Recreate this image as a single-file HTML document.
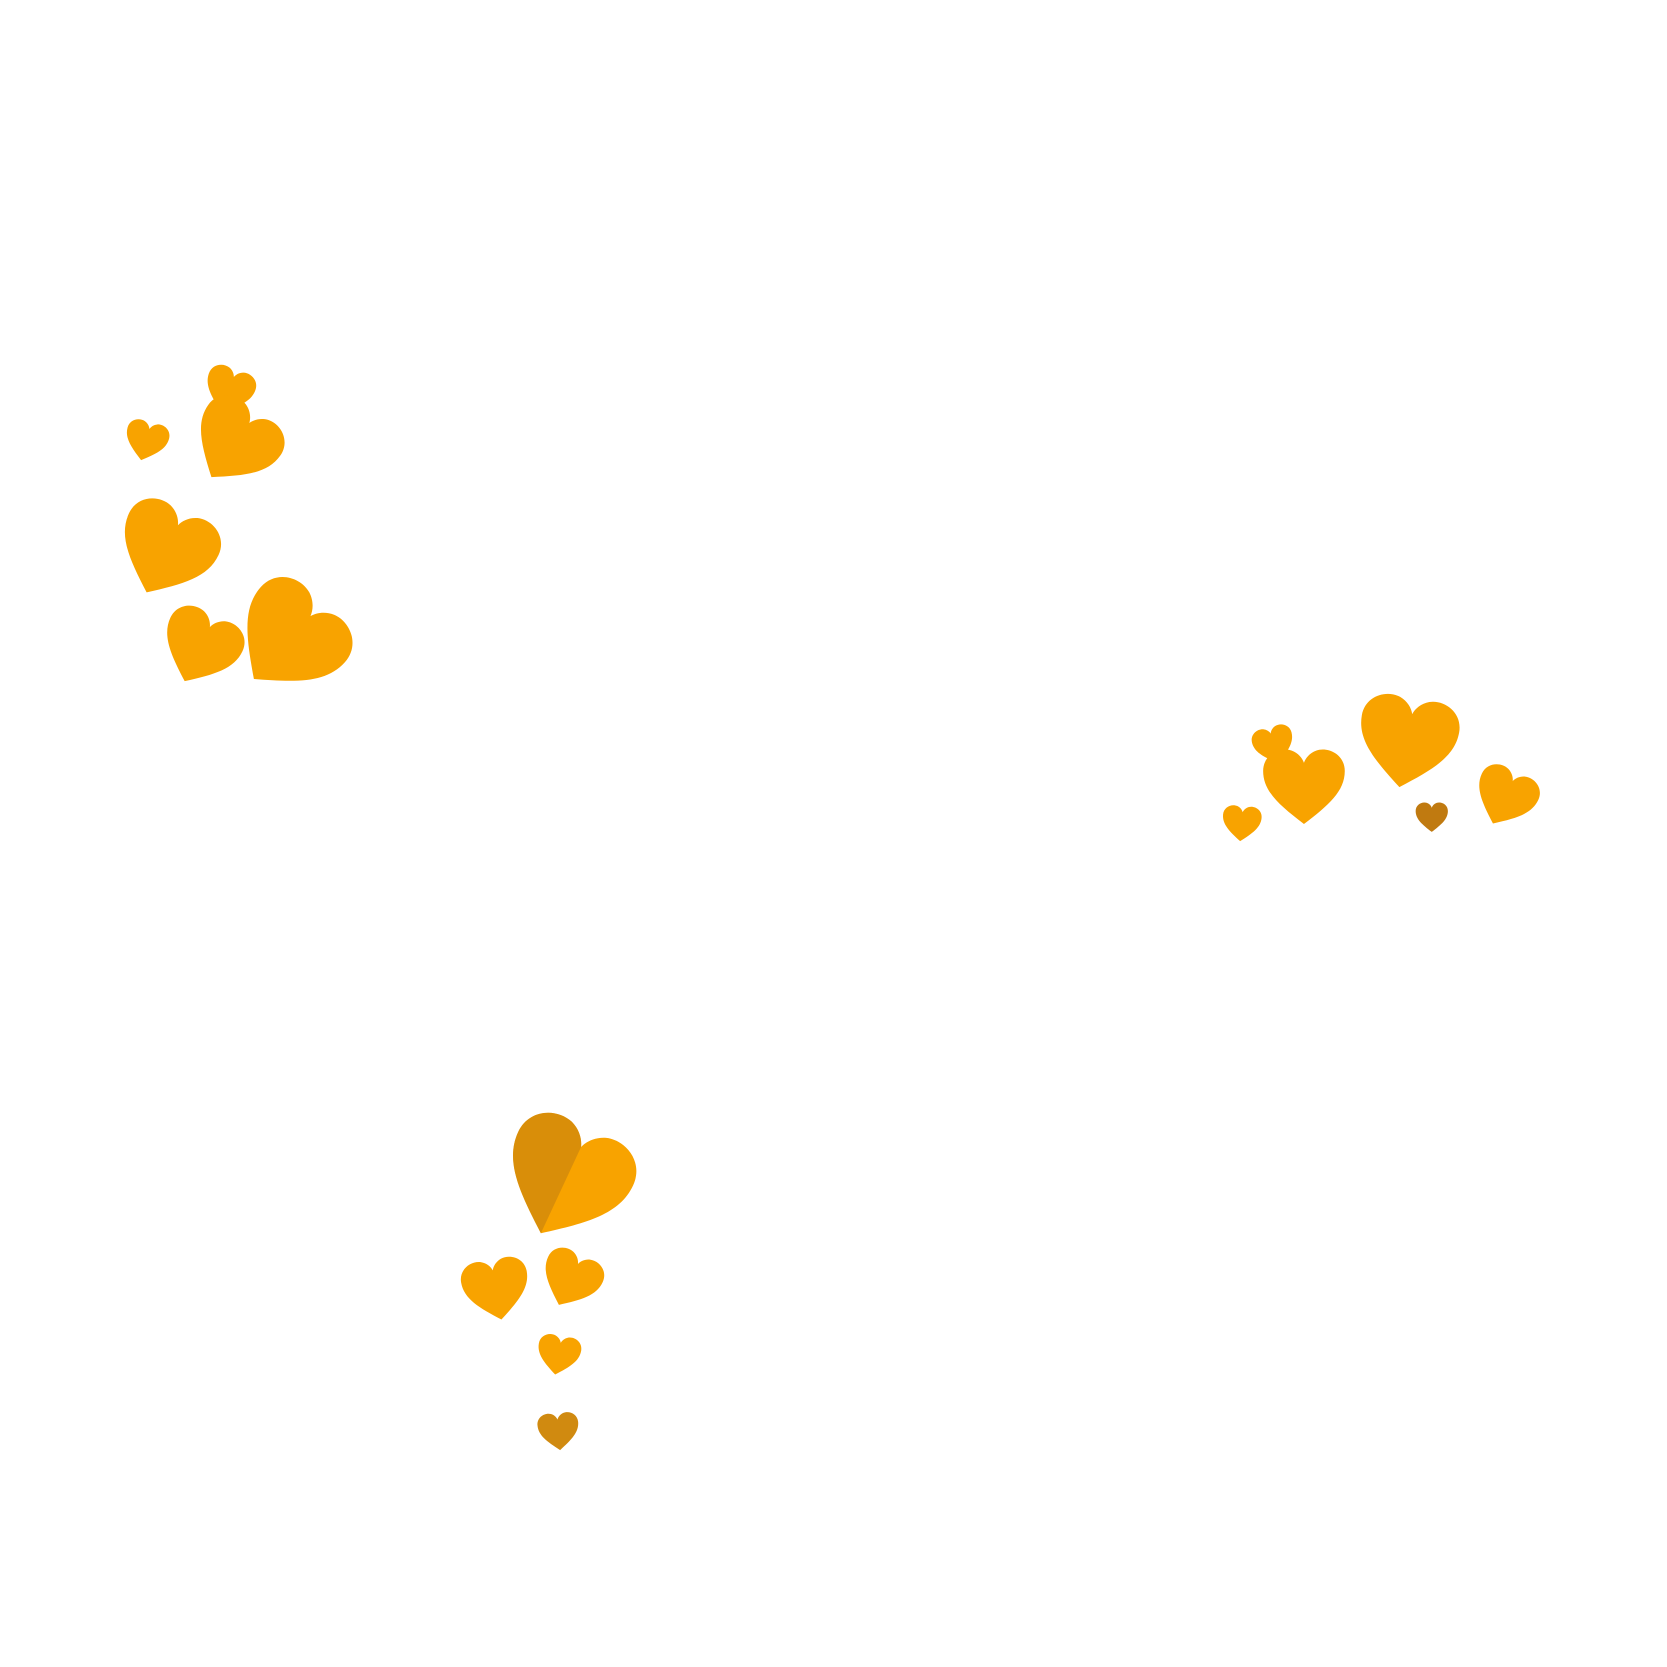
<!DOCTYPE html>
<html><head><style>html,body{margin:0;padding:0;background:#fff;width:1667px;height:1667px;overflow:hidden}svg{display:block}</style></head>
<body>
<svg width="1667" height="1667" viewBox="0 0 1552 1552" xmlns="http://www.w3.org/2000/svg">
<defs>
<path id="h" d="M50 95 C20 72 0 55 0 30 C0 10 20 0 35 5 C43 8 48 14 50 20 C52 14 57 8 65 5 C80 0 100 10 100 30 C100 55 80 72 50 95Z"/>
<path id="hl" d="M50 95 C20 72 0 55 0 30 C0 10 20 0 35 5 C43 8 48 14 50 20 Z"/>
</defs>
<g fill="#f8a300">
<!-- left cluster -->
<use href="#h" transform="translate(136,411) rotate(15) scale(0.4) translate(-50,-50)"/>
<use href="#h" transform="translate(213,364) rotate(20) scale(0.46) translate(-50,-50)"/>
<use href="#h" transform="translate(218,414) rotate(35) scale(0.82) translate(-50,-50)"/>
<use href="#h" transform="translate(154,514) rotate(25) scale(0.92) translate(-50,-50)"/>
<use href="#h" transform="translate(186,604) rotate(25) scale(0.74) translate(-50,-50)"/>
<use href="#h" transform="translate(268,597) rotate(42) scale(1.05) translate(-50,-50)"/>
<!-- right cluster -->
<use href="#h" transform="translate(1156,767) rotate(5) scale(0.36) translate(-50,-50)"/>
<use href="#h" transform="translate(1186,694) rotate(-15) scale(0.38) translate(-50,-50)"/>
<use href="#h" transform="translate(1214,733) rotate(0) scale(0.76) translate(-50,-50)"/>
<use href="#h" transform="translate(1310,692) rotate(10) scale(0.92) translate(-50,-50)"/>
<use href="#h" transform="translate(1401,743) rotate(25) scale(0.58) translate(-50,-50)"/>
<!-- bottom cluster -->
<use href="#h" transform="translate(526,1100) rotate(25) scale(1.18) translate(-50,-50)"/>
<use href="#h" transform="translate(462,1201) rotate(-10) scale(0.62) translate(-50,-50)"/>
<use href="#h" transform="translate(531,1192) rotate(25) scale(0.56) translate(-50,-50)"/>
<use href="#h" transform="translate(520,1262) rotate(10) scale(0.4) translate(-50,-50)"/>
</g>
<use href="#hl" fill="#c07d10" opacity="0.55" transform="translate(526,1100) rotate(25) scale(1.18) translate(-50,-50)"/>
<use href="#h" fill="#c07a10" transform="translate(1333,761) rotate(0) scale(0.3) translate(-50,-50)"/>
<use href="#h" fill="#d08a10" transform="translate(520,1333) rotate(-5) scale(0.38) translate(-50,-50)"/>
</svg>
</body></html>
